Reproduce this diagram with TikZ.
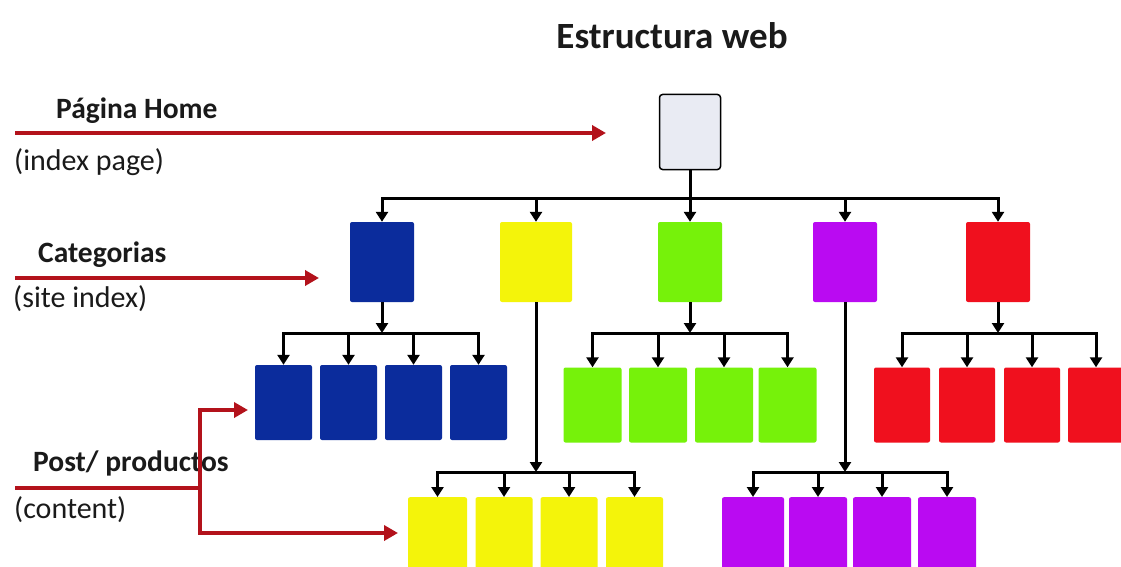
\documentclass[tikz,border=0pt]{standalone}
\usepackage{fontspec}
\setmainfont{Carlito}
\usetikzlibrary{arrows.meta}
\definecolor{homefill}{HTML}{E9EBF3}
\definecolor{cblue}{HTML}{0B2C9C}
\definecolor{cyellow}{HTML}{F4F40A}
\definecolor{cgreen}{HTML}{76F20A}
\definecolor{cpurple}{HTML}{BA0AF2}
\definecolor{cred}{HTML}{F0101E}
\definecolor{darr}{HTML}{B3121B}
\definecolor{txt}{HTML}{1A1A1A}
\tikzset{
  box/.style={draw=none, rounded corners=2pt, inner sep=0pt, minimum width=#1},
  box/.default=60pt,
  catbox/.style={box=64pt, minimum height=80pt},
  kidbox/.style={box=58pt, minimum height=75pt},
  conn/.style={line width=3pt, black, -{Triangle[width=12pt,length=10pt]}},
  plain/.style={line width=3pt, black},
  redarr/.style={line width=4pt, darr, -{Triangle[width=15pt,length=14pt]}},
  redline/.style={line width=4pt, darr},
  lbl/.style={anchor=west, inner sep=0pt, text=txt, font=\fontsize{30}{34}\selectfont},
  blbl/.style={lbl, font=\fontsize{29.5}{34}\selectfont\bfseries}
}
\begin{document}
\begin{tikzpicture}[x=1pt,y=-1pt]
\useasboundingbox (0,0) rectangle (1121,567);
\fill[white] (0,0) rectangle (1121,567);

% title
\node[font=\fontsize{37}{42}\selectfont\bfseries, text=txt, inner sep=0pt] (title) at (672,36) {Estructura web};

% home
\node[draw=black, line width=1.5pt, fill=homefill, rounded corners=3pt, minimum width=61pt, minimum height=75pt, inner sep=0pt] (home) at (690,132) {};

% categories
\node[catbox, fill=cblue]   (cb) at (382,262) {};
\node[catbox, fill=cyellow, minimum width=72pt] (cy) at (536,262) {};
\node[catbox, fill=cgreen]  (cg) at (690,262) {};
\node[catbox, fill=cpurple] (cp) at (845,262) {};
\node[catbox, fill=cred]    (cr) at (998,262) {};

% blue children
\node[kidbox, fill=cblue, minimum width=57pt] (b1) at (283.5,402.5) {};
\node[kidbox, fill=cblue, minimum width=57pt] (b2) at (348.5,402.5) {};
\node[kidbox, fill=cblue, minimum width=57pt] (b3) at (413.5,402.5) {};
\node[kidbox, fill=cblue, minimum width=57pt] (b4) at (478.5,402.5) {};

% green children
\node[kidbox, fill=cgreen] (g1) at (592.5,405) {};
\node[kidbox, fill=cgreen] (g2) at (658,405) {};
\node[kidbox, fill=cgreen] (g3) at (724,405) {};
\node[kidbox, fill=cgreen] (g4) at (787.5,405) {};

% red children
\node[kidbox, fill=cred, minimum width=56pt] (r1) at (902,405) {};
\node[kidbox, fill=cred, minimum width=56pt] (r2) at (967,405) {};
\node[kidbox, fill=cred, minimum width=56pt] (r3) at (1032,405) {};
\node[kidbox, fill=cred, minimum width=56pt] (r4) at (1096,405) {};

% yellow children
\node[box=59pt, minimum height=90pt, fill=cyellow, anchor=north] (y1) at (437.5,497) {};
\node[box=57pt, minimum height=90pt, fill=cyellow, anchor=north] (y2) at (504,497) {};
\node[box=57pt, minimum height=90pt, fill=cyellow, anchor=north] (y3) at (569,497) {};
\node[box=57pt, minimum height=90pt, fill=cyellow, anchor=north] (y4) at (634.5,497) {};

% purple children
\node[box=62pt, minimum height=90pt, fill=cpurple, anchor=north] (p1) at (753,497) {};
\node[box=58pt, minimum height=90pt, fill=cpurple, anchor=north] (p2) at (818,497) {};
\node[box=58pt, minimum height=90pt, fill=cpurple, anchor=north] (p3) at (882,497) {};
\node[box=58pt, minimum height=90pt, fill=cpurple, anchor=north] (p4) at (947,497) {};

% home -> categories
\coordinate (hj) at (690,198);
\draw[plain] (home.south) -- (hj);
\foreach \c in {cb,cy,cg,cp,cr} {
  \draw[conn] (hj) -| (\c.north);
}

% blue
\coordinate (bj) at (382,333);
\draw[conn] (cb.south) -- (bj);
\foreach \c in {b1,b2,b3,b4} { \draw[conn] (bj) -| (\c.north); }

% green
\coordinate (gj) at (690,333);
\draw[conn] (cg.south) -- (gj);
\foreach \c in {g1,g2,g3,g4} { \draw[conn] (gj) -| (\c.north); }

% red
\coordinate (rj) at (998,333);
\draw[conn] (cr.south) -- (rj);
\foreach \c in {r1,r2,r3,r4} { \draw[conn] (rj) -| (\c.north); }

% yellow
\coordinate (yj) at (536,472);
\draw[conn] (cy.south) -- (yj);
\foreach \c in {y1,y2,y3,y4} { \draw[conn] (yj) -| (\c.north); }

% purple
\coordinate (pj) at (845,472);
\draw[conn] (cp.south) -- (pj);
\foreach \c in {p1,p2,p3,p4} { \draw[conn] (pj) -| (\c.north); }

% left labels and red arrows
\node[blbl] (lh) at (56,111) {Página Home};
\node[lbl]  (lhi) at (14,162) {(index page)};
\coordinate (ha0) at (15,133);
\coordinate (ha1) at (606,133);
\draw[redarr] (ha0) -- (ha1);

\node[blbl] (lc) at (38,255) {Categorias};
\node[lbl]  (lci) at (13,299) {(site index)};
\coordinate (ca0) at (15,278);
\coordinate (ca1) at (319,278);
\draw[redarr] (ca0) -- (ca1);

\node[blbl] (lp) at (33,463) {Post/ productos};
\node[lbl]  (lpc) at (14,510) {(content)};
\coordinate (pa0) at (15,488);
\coordinate (pa1) at (200,488);
\coordinate (pt1) at (248,410);
\coordinate (pt2) at (398,533);
\draw[redline] (pa0) -- (pa1);
\draw[redarr] (pa1) |- (pt1);
\draw[redarr] (pa1) |- (pt2);
\end{tikzpicture}
\end{document}
